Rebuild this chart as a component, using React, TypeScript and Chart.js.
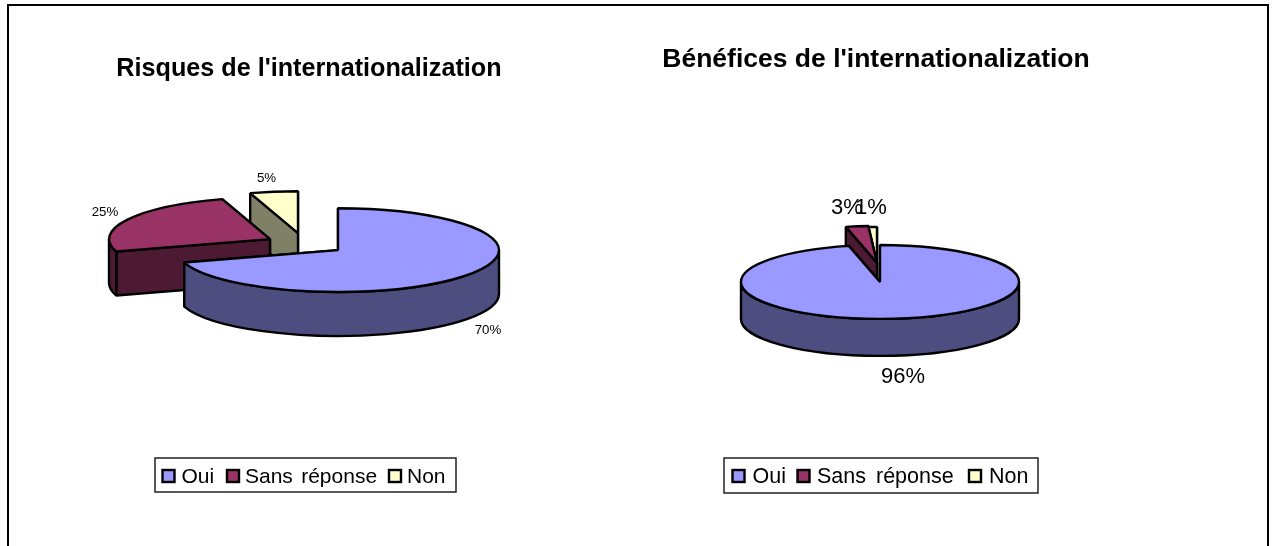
import React, { useEffect, useRef } from "react";
import { Chart, registerables } from "chart.js";

Chart.register(...registerables);

const categories = ["Oui", "Sans réponse", "Non"];
const risquesValues = [70.2, 25, 4.8];
const beneficesValues = [96.4, 2.6, 1];
const risquesTitle = "Risques de l'internationalization";
const beneficesTitle = "Bénéfices de l'internationalization";

const topColors = ["#9999FF", "#993366", "#FFFFCC"];
const sideColors = ["#4D4D80", "#4D1A33", "#808066"];

const pie3dPlugin = {
  id: "pie3d",
  afterLayout(chart: any, _a: any, o: any) {
    const t = chart.titleBlock;
    if (t && o.titleAt) {
      const h = t.bottom - t.top;
      t.left = o.titleAt[0] - 320;
      t.right = o.titleAt[0] + 320;
      t.width = 640;
      t.top = o.titleAt[1] - h / 2;
      t.bottom = t.top + h;
    }
  },
  beforeDatasetsDraw(chart: any, _a: any, o: any) {
    const ctx = chart.ctx;
    const arcs = chart.getDatasetMeta(0).data;
    ctx.save();
    ctx.strokeStyle = "#000";
    ctx.lineWidth = 2.4;
    ctx.lineJoin = "bevel";
    for (let i = arcs.length - 1; i >= 0; i--) {
      const arc = arcs[i];
      const rx = arc.outerRadius;
      const ry = rx * o.tilt;
      const d = o.depth;
      const cx = arc.x + o.shift[i][0];
      const cy = arc.y + o.shift[i][1];
      const a0 = arc.startAngle;
      const a1 = arc.endAngle;
      const faces = [a0, a1].sort((p, q) => Math.sin(p) - Math.sin(q));
      ctx.fillStyle = sideColors[i];
      for (const a of faces) {
        const px = cx + rx * Math.cos(a);
        const py = cy + ry * Math.sin(a);
        ctx.beginPath();
        ctx.moveTo(cx, cy);
        ctx.lineTo(px, py);
        ctx.lineTo(px, py + d);
        ctx.lineTo(cx, cy + d);
        ctx.closePath();
        ctx.fill();
        ctx.stroke();
      }
      const lo = Math.max(a0, 0);
      const hi = Math.min(a1, Math.PI);
      if (lo < hi) {
        ctx.beginPath();
        ctx.ellipse(cx, cy, rx, ry, 0, lo, hi);
        ctx.lineTo(cx + rx * Math.cos(hi), cy + ry * Math.sin(hi) + d);
        ctx.ellipse(cx, cy + d, rx, ry, 0, hi, lo, true);
        ctx.closePath();
        ctx.fill();
        ctx.stroke();
      }
      ctx.fillStyle = topColors[i];
      ctx.beginPath();
      ctx.moveTo(cx, cy);
      ctx.ellipse(cx, cy, rx, ry, 0, a0, a1);
      ctx.closePath();
      ctx.fill();
      ctx.stroke();
    }
    ctx.restore();
    return false;
  },
  afterDraw(chart: any, _a: any, o: any) {
    const ctx = chart.ctx;
    const values = chart.data.datasets[0].data as number[];
    const total = values.reduce((s, v) => s + v, 0);
    ctx.save();
    ctx.fillStyle = "#000";
    ctx.textAlign = "center";
    ctx.textBaseline = "middle";
    ctx.font = `${o.labelSize}px "Liberation Sans", Arial, sans-serif`;
    values.forEach((v, i) => {
      const [x, y] = o.labelAt[i];
      ctx.fillText(`${Math.round((v / total) * 100)}%`, x, y);
    });
    // legend
    const lg = o.legend;
    ctx.fillStyle = "#fff";
    ctx.strokeStyle = "#222";
    ctx.lineWidth = 1.5;
    ctx.fillRect(lg.x, lg.y, lg.w, lg.h);
    ctx.strokeRect(lg.x, lg.y, lg.w, lg.h);
    ctx.textAlign = "left";
    ctx.textBaseline = "alphabetic";
    ctx.font = `${lg.size}px "Liberation Sans", Arial, sans-serif`;
    (ctx as any).wordSpacing = `${lg.wordGap}px`;
    chart.data.labels.forEach((label: string, i: number) => {
      ctx.fillStyle = topColors[i];
      ctx.strokeStyle = "#000";
      ctx.lineWidth = 2.4;
      ctx.fillRect(lg.swatch[i], lg.y + 12, 12, 12);
      ctx.strokeRect(lg.swatch[i], lg.y + 12, 12, 12);
      ctx.fillStyle = "#000";
      ctx.fillText(label, lg.text[i], lg.y + 25);
    });
    ctx.restore();
  },
};

function PieCanvas(props: {
  left: number;
  width: number;
  title: string;
  values: number[];
  titleSize: number;
  radius: number;
  padding: any;
  pie: any;
}) {
  const ref = useRef<HTMLCanvasElement>(null);
  useEffect(() => {
    const chart = new Chart(ref.current as HTMLCanvasElement, {
      type: "pie",
      data: {
        labels: categories,
        datasets: [{ data: props.values, backgroundColor: topColors, borderColor: "#000", borderWidth: 2 }],
      },
      options: {
        animation: false,
        responsive: false,
        radius: props.radius,
        layout: { padding: props.padding },
        plugins: {
          legend: { display: false },
          tooltip: { enabled: false },
          title: {
            display: true,
            text: props.title,
            color: "#000",
            padding: 0,
            font: { family: '"Liberation Sans", Arial, sans-serif', size: props.titleSize, weight: "bold" },
          },
          pie3d: props.pie,
        },
      } as any,
      plugins: [pie3dPlugin as any],
    });
    return () => chart.destroy();
  }, []);
  return (
    <canvas
      ref={ref}
      width={props.width}
      height={546}
      style={{ position: "absolute", left: props.left, top: 0, width: props.width, height: 546 }}
    />
  );
}

export default function App() {
  return (
    <div style={{ position: "fixed", left: 0, top: 0, width: 1274, height: 546, overflow: "hidden", background: "#fff" }}>
      <div
        style={{
          position: "absolute",
          left: 7,
          top: 4,
          width: 1258,
          height: 600,
          border: "2px solid #000",
        }}
      />
      <PieCanvas
        left={0}
        width={637}
        title={risquesTitle}
        values={risquesValues}
        titleSize={25.2}
        radius={161}
        padding={{ left: 39, right: 0, top: 0, bottom: 76 }}
        pie={{
          tilt: 0.26,
          depth: 44,
          shift: [[0, 0], [-68, -11], [-40, -17]],
          titleAt: [309, 69],
          labelSize: 13.3,
          labelAt: [[488, 330], [105, 212], [266.5, 178]],
          legend: {
            x: 155, y: 458, w: 301, h: 34, size: 21, wordGap: 2.5,
            swatch: [162.5, 227, 389],
            text: [181.5, 245, 407],
          },
        }}
      />
      <PieCanvas
        left={637}
        width={637}
        title={beneficesTitle}
        values={beneficesValues}
        titleSize={26.5}
        radius={139}
        padding={{ left: 0, right: 151, top: 0, bottom: 14 }}
        pie={{
          tilt: 0.266,
          depth: 37,
          shift: [[0, 0], [-3, -19], [-3, -18]],
          titleAt: [239, 60],
          labelSize: 22,
          labelAt: [[266, 376.5], [210, 207.5], [234, 207.5]],
          legend: {
            x: 87, y: 458, w: 314, h: 35, size: 21.5, wordGap: 4,
            swatch: [95.5, 160.5, 332],
            text: [115.5, 180, 352],
          },
        }}
      />
    </div>
  );
}
